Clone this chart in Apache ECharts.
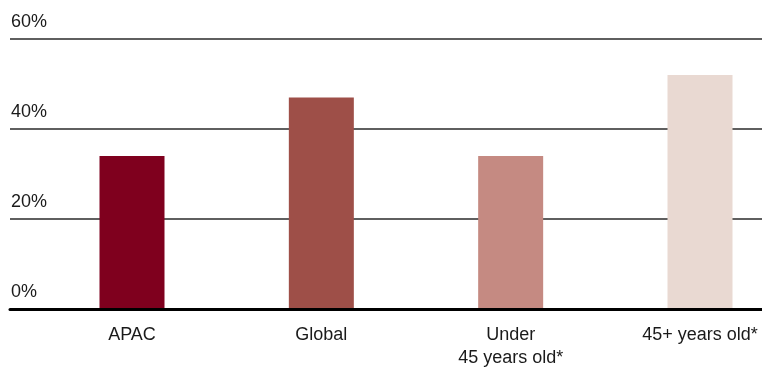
<!DOCTYPE html>
<html>
<head>
<meta charset="utf-8">
<script src="https://cdn.jsdelivr.net/npm/echarts@6/dist/echarts.min.js"></script>
<style>
  html, body { margin: 0; padding: 0; background: #ffffff; }
  #chart { width: 762px; height: 367px; }
</style>
</head>
<body>
<div id="chart"></div>
<script>
// Share of respondents by group
const categories = ['APAC', 'Global', 'Under\n45 years old*', '45+ years old*'];
const values = [34, 47, 34, 52];
const barColors = ['#7f001e', '#9e4f48', '#c58a82', '#e9d9d2'];
const yTicks = { min: 0, max: 60, interval: 20 };

const FONT = "'Liberation Sans', Arial, Helvetica, sans-serif";

const chart = echarts.init(document.getElementById('chart'), null, { renderer: 'canvas' });

chart.setOption({
  animation: false,
  backgroundColor: '#ffffff',
  grid: [
    // full-width grid carrying the gridlines, percent labels and the baseline
    { left: 10, right: 0, top: 39, height: 270, outerBoundsMode: 'none' },
    // bar grid: first and last category sit on its edges
    { left: 132, right: 62, top: 39, height: 270, outerBoundsMode: 'none' }
  ],
  xAxis: [
    {
      gridIndex: 0,
      type: 'value',
      min: 0,
      max: 1,
      axisLine: { show: true, onZero: false, lineStyle: { color: '#000000', width: 3 } },
      axisTick: { show: false },
      axisLabel: { show: false },
      splitLine: { show: false },
      z: 10
    },
    {
      gridIndex: 1,
      type: 'category',
      data: categories,
      boundaryGap: false,
      axisLine: { show: false },
      axisTick: { show: false },
      axisLabel: {
        interval: 0,
        margin: 15,
        fontFamily: FONT,
        fontSize: 18,
        lineHeight: 23,
        color: '#1a1a1a',
        align: 'center'
      }
    }
  ],
  yAxis: [
    {
      gridIndex: 0,
      type: 'value',
      min: yTicks.min,
      max: yTicks.max,
      interval: yTicks.interval,
      axisLine: { show: false },
      axisTick: { show: false },
      axisLabel: {
        inside: true,
        margin: 1,
        align: 'left',
        verticalAlign: 'bottom',
        padding: [0, 0, 8, 0],
        fontFamily: FONT,
        fontSize: 18,
        color: '#1a1a1a',
        formatter: v => v + '%'
      },
      splitLine: { show: true, lineStyle: { color: '#2a2a2a', width: 1.5 } }
    },
    {
      gridIndex: 1,
      type: 'value',
      min: yTicks.min,
      max: yTicks.max,
      interval: yTicks.interval,
      show: false,
      splitLine: { show: false }
    }
  ],
  series: [
    {
      type: 'bar',
      xAxisIndex: 1,
      yAxisIndex: 1,
      barWidth: 65,
      clip: false,
      data: values.map((v, i) => ({ value: v, itemStyle: { color: barColors[i] } }))
    }
  ]
});
</script>
</body>
</html>
